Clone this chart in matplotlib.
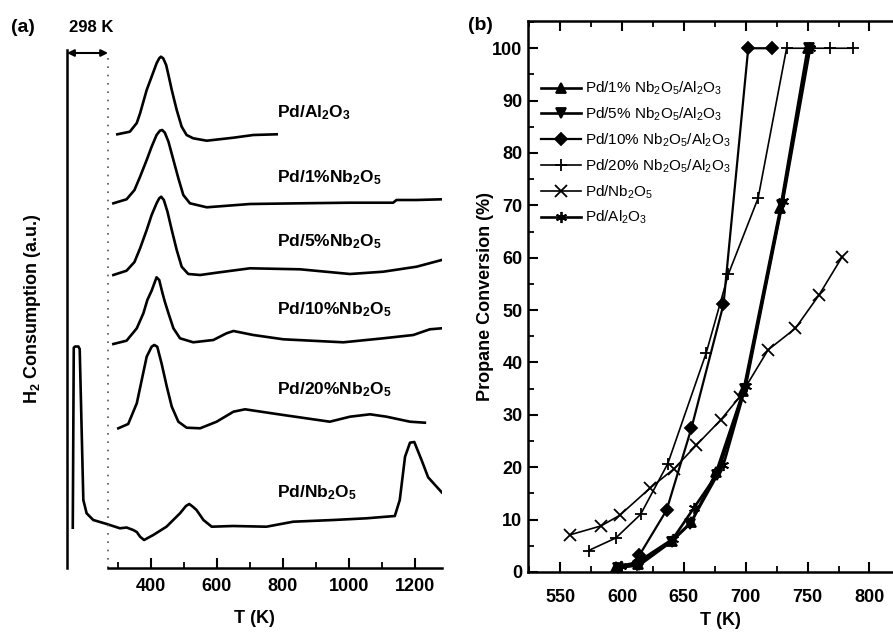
import matplotlib
matplotlib.use("Agg")
import matplotlib.pyplot as plt
from matplotlib.ticker import MultipleLocator, FixedLocator

plt.rcParams['font.family'] = ['Liberation Sans', 'DejaVu Sans']
plt.rcParams['mathtext.fontset'] = 'custom'
plt.rcParams['mathtext.rm'] = 'Liberation Sans'
plt.rcParams['mathtext.bf'] = 'Liberation Sans:bold'
plt.rcParams['mathtext.default'] = 'regular'

# ---------------- (a) H2-TPR profiles: temperature (K) vs signal (a.u.) ----------------
tpr_al2o3_T = [298, 336, 357, 367, 387, 402, 417, 425, 430, 437, 446, 453, 463, 478, 493, 508, 528, 569, 650, 710, 781]
tpr_al2o3_s = [433.7, 436.3, 445, 454.7, 478, 491.3, 504.7, 509.7, 511.3, 509.7, 503, 493, 478, 458, 441.3, 433, 429.7, 427.3, 430.3, 433, 433.7]

tpr_nb1_T = [286, 326, 350, 367, 387, 402, 417, 427, 434, 442, 453, 468, 483, 498, 518, 569, 700, 852, 1003, 1134, 1144, 1205, 1281]
tpr_nb1_s = [364.7, 368.7, 378, 391.3, 408, 421.3, 433, 437.3, 438, 435.3, 426.3, 408, 389.7, 373, 364.7, 360.7, 364, 364.7, 365.3, 365.3, 368, 368, 368.7]

tpr_nb5_T = [286, 326, 350, 367, 387, 402, 417, 425, 431, 439, 450, 463, 478, 493, 513, 549, 599, 700, 852, 1003, 1104, 1205, 1281]
tpr_nb5_s = [293, 297.3, 306, 319.7, 338, 353, 364.7, 369.7, 371.3, 368, 356.3, 338, 318, 301.3, 294, 293, 295.3, 299.7, 298.7, 294, 296.3, 301.3, 308]

tpr_nb10_T = [286, 326, 357, 377, 389, 402, 412, 417, 425, 435, 442, 453, 468, 488, 528, 589, 629, 650, 710, 801, 983, 1104, 1195, 1245, 1281]
tpr_nb10_s = [224, 227.3, 239.7, 254.7, 268, 277.3, 286.3, 290.7, 288, 274.7, 266.3, 254.7, 239.7, 229.7, 225.7, 228, 234.7, 237, 233, 228.7, 225.7, 229.7, 233, 238.7, 239.7]

tpr_nb20_T = [301, 331, 357, 372, 387, 402, 410, 419, 432, 448, 463, 483, 508, 549, 599, 650, 685, 801, 942, 1003, 1064, 1114, 1185, 1230]
tpr_nb20_s = [139.7, 144, 164.7, 188, 211.3, 221.3, 223, 221.3, 204.7, 181.3, 161.3, 146.3, 140.3, 139.7, 146.3, 156.3, 158.7, 153, 146.3, 151.3, 153.7, 151.3, 146.3, 145.3]

tpr_nb_T = [163, 166, 170, 180, 184, 195, 205, 225, 266, 306, 326, 346, 357, 367, 379, 407, 447, 488, 506, 516, 528, 538, 559, 584, 649, 750, 831, 953, 1053, 1139, 1154, 1170, 1185, 1198, 1220, 1240, 1281]
tpr_nb_s = [40.3, 220.3, 221.5, 221.5, 219, 68, 54.7, 48, 44, 39.7, 40.5, 38, 36, 31.3, 28, 33, 41.3, 54.7, 62, 64, 61, 58, 48, 41.3, 42, 41.3, 46.3, 48, 49.7, 52, 68, 111.3, 125.3, 126, 108, 90.7, 75.7]

tpr_labels = ['Pd/Al$_2$O$_3$', 'Pd/1%Nb$_2$O$_5$', 'Pd/5%Nb$_2$O$_5$',
              'Pd/10%Nb$_2$O$_5$', 'Pd/20%Nb$_2$O$_5$', 'Pd/Nb$_2$O$_5$']
tpr_label_s = [455, 390, 326, 258, 178, 75]

# ---------------- (b) propane conversion vs temperature ----------------
conv_nb1_T = [595, 613, 640, 656, 676, 698, 728, 750]
conv_nb1_v = [1.0, 1.5, 6.0, 9.5, 19.0, 34.5, 69.5, 100]
conv_nb5_T = [597, 614, 640, 655, 677, 699, 729, 751]
conv_nb5_v = [0.8, 1.3, 5.8, 9.2, 18.5, 35.0, 70.0, 100]
conv_nb10_T = [612, 614, 636, 656, 682, 702, 721]
conv_nb10_v = [1.5, 3.2, 11.8, 27.4, 51.1, 100, 100]
conv_nb20_T = [573, 595, 615, 637, 668, 686, 710, 733, 752, 768, 787]
conv_nb20_v = [4.1, 6.5, 11.0, 20.7, 41.8, 56.9, 71.4, 100, 100, 100, 100]
conv_nb_T = [558, 583, 598, 623, 642, 660, 680, 695, 718, 740, 759, 778]
conv_nb_v = [7.1, 8.8, 10.8, 16.1, 19.7, 24.2, 29.1, 33.4, 42.4, 46.5, 52.8, 60.2]
conv_al_T = [599, 612, 641, 658, 682, 700, 730, 752]
conv_al_v = [1.2, 1.8, 6.3, 12.2, 20.5, 35.5, 70.8, 100]

fig = plt.figure(figsize=(8.93, 6.32), dpi=100)

# ---- panel (a) ----
axa = fig.add_axes([67 / 893, 1 - 568 / 632, 375 / 893, 518 / 632])
axa.set_xlim(145.5, 1282)
axa.set_ylim(0, 518)
for T, s in [(tpr_al2o3_T, tpr_al2o3_s), (tpr_nb1_T, tpr_nb1_s), (tpr_nb5_T, tpr_nb5_s),
             (tpr_nb10_T, tpr_nb10_s), (tpr_nb20_T, tpr_nb20_s), (tpr_nb_T, tpr_nb_s)]:
    axa.plot(T, s, color='black', lw=1.9, solid_joinstyle='round')
for lab, s in zip(tpr_labels, tpr_label_s):
    axa.text(782, s, lab, fontsize=12.5, fontweight='bold', va='center', ha='left')

axa.spines['top'].set_visible(False)
axa.spines['right'].set_visible(False)
axa.spines['left'].set_linewidth(1.8)
axa.spines['bottom'].set_linewidth(1.8)
axa.spines['bottom'].set_bounds(270, 1282)
axa.set_yticks([])
axa.xaxis.set_major_locator(FixedLocator([400, 600, 800, 1000, 1200]))
axa.xaxis.set_minor_locator(FixedLocator([300, 500, 700, 900, 1100]))
axa.tick_params(axis='x', which='major', direction='in', length=7, width=1.5,
                labelsize=13, pad=7)
axa.tick_params(axis='x', which='minor', direction='in', length=4, width=1.3)
for lbl in axa.get_xticklabels():
    lbl.set_fontweight('bold')
axa.set_xlabel('T (K)', fontsize=13, fontweight='bold', labelpad=11)
axa.set_ylabel('H$_2$ Consumption (a.u.)', fontsize=13, fontweight='bold', labelpad=17)

# start of the temperature ramp and the isothermal hold at 298 K
axa.plot([270, 270], [0, 516], color='#555555', lw=1.2, ls=(0, (1, 4)))
axa.annotate('', xy=(145.5, 515), xytext=(270, 515),
             arrowprops=dict(arrowstyle='<|-|>', color='black', lw=1.5,
                             mutation_scale=10, shrinkA=0, shrinkB=0),
             annotation_clip=False)
axa.text(220, 540, '298 K', fontsize=12, fontweight='bold', ha='center', va='center',
         clip_on=False)
fig.text(23 / 893, 1 - 28 / 632, '(a)', fontsize=14, fontweight='bold', ha='center', va='center')

# ---- panel (b) ----
axb = fig.add_axes([528 / 893, 1 - 572 / 632, 365 / 893, 551 / 632])
axb.set_xlim(524, 819)
axb.set_ylim(0, 105.2)

series = [
    (conv_nb1_T, conv_nb1_v, '^', 7, 1.9, 'Pd/1% Nb$_2$O$_5$/Al$_2$O$_3$'),
    (conv_nb5_T, conv_nb5_v, 'v', 7, 1.9, 'Pd/5% Nb$_2$O$_5$/Al$_2$O$_3$'),
    (conv_nb10_T, conv_nb10_v, 'D', 6, 1.6, 'Pd/10% Nb$_2$O$_5$/Al$_2$O$_3$'),
    (conv_nb20_T, conv_nb20_v, '+', 8, 1.2, 'Pd/20% Nb$_2$O$_5$/Al$_2$O$_3$'),
    (conv_nb_T, conv_nb_v, 'x', 8, 1.2, 'Pd/Nb$_2$O$_5$'),
    (conv_al_T, conv_al_v, (6, 2, 0), 8, 1.9, 'Pd/Al$_2$O$_3$'),
]
for T, v, m, ms, lw, lab in series:
    axb.plot(T, v, color='black', marker=m, ms=ms, lw=lw, mew=1.3,
             mfc='black', mec='black', label=lab, clip_on=False)

axb.spines['right'].set_visible(False)
for sp in ['left', 'bottom', 'top']:
    axb.spines[sp].set_linewidth(1.8)
axb.xaxis.set_major_locator(MultipleLocator(50))
axb.xaxis.set_minor_locator(MultipleLocator(25))
axb.yaxis.set_major_locator(MultipleLocator(10))
axb.yaxis.set_minor_locator(MultipleLocator(5))
axb.tick_params(which='major', direction='in', length=7, width=1.5, labelsize=13,
                top=True, pad=4)
axb.tick_params(which='minor', direction='in', length=4, width=1.3, top=True)
axb.tick_params(axis='x', which='major', pad=12)
for lbl in axb.get_xticklabels() + axb.get_yticklabels():
    lbl.set_fontweight('bold')
axb.set_xlabel('T (K)', fontsize=13, fontweight='bold', labelpad=2)
axb.xaxis.set_label_coords((720 - 528) / 365, -0.072)
axb.set_ylabel('Propane Conversion (%)', fontsize=13, fontweight='bold', labelpad=-1)

axb.legend(loc='upper left', bbox_to_anchor=(541 / 893, 1 - 80 / 632),
           bbox_transform=fig.transFigure, frameon=False, fontsize=11,
           handlelength=2.6, handletextpad=0.3, labelspacing=0.55,
           borderpad=0, borderaxespad=0)
fig.text(480 / 893, 1 - 25 / 632, '(b)', fontsize=14, fontweight='bold', ha='center', va='center')

fig.savefig('out.png', dpi=100)
